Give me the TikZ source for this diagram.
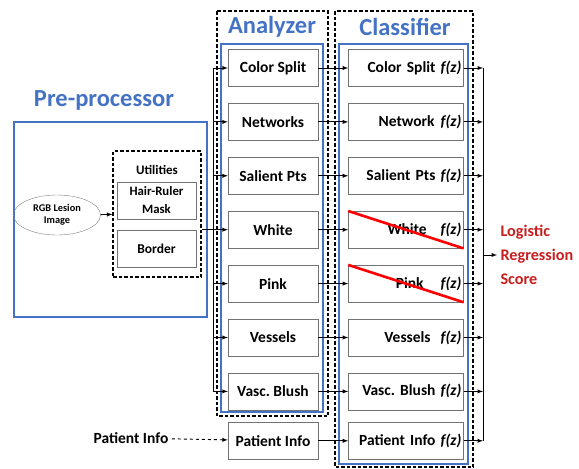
\documentclass[tikz,border=0pt]{standalone}
\usepackage{fontspec}
\setmainfont{Carlito}
\usetikzlibrary{positioning,shapes.geometric}

\definecolor{procblue}{RGB}{68,114,196}
\definecolor{scorered}{RGB}{200,30,30}

\begin{document}
\frenchspacing
\begin{tikzpicture}[x=1pt, y=1pt, node distance=16.5pt, >=latex,
  every node/.style={font=\bfseries\fontsize{15.5}{17}\selectfont},
  box/.style={draw=black!55, minimum width=90pt, minimum height=37pt, inner sep=2pt},
  fbox/.style={box, minimum width=115pt, text width=111pt, align=right},
  title/.style={text=procblue, font=\bfseries\fontsize{24.5}{26}\selectfont},
  bluebox/.style={draw=procblue, line width=1.6pt},
  dashbox/.style={draw, dash pattern=on 3.5pt off 2pt, line width=1.1pt},
  link/.style={->, line width=0.9pt}]
  \useasboundingbox (0,0) rectangle (579,-469);

  % pre-processor
  \node[title] (pretitle) at (104,-100) {Pre-processor};
  \draw[bluebox] (14,-122) rectangle (207,-317);
  \node[draw=black!50, ellipse, minimum width=87pt, minimum height=40pt, inner sep=1pt, align=center,
        font=\bfseries\fontsize{10.3}{12}\selectfont] (rgb) at (57,-215) {RGB Lesion\\Image};
  \node[dashbox, minimum width=88pt, minimum height=126pt] (util) at (157,-214) {};
  \node[font=\bfseries\fontsize{13}{15}\selectfont] (utitle) at (157,-170) {Utilities};
  \node[box, minimum width=79pt, align=center, font=\bfseries\fontsize{12.8}{18}\selectfont] (hair) at (156.5,-200.5) {Hair-Ruler\\Mask};
  \node[box, minimum width=79pt, below=11pt of hair, font=\bfseries\fontsize{13.5}{15}\selectfont] (border) {Border};
  \draw[link] (rgb) -- (util);

  % analyzer
  \node[title] (antitle) at (272,-27) {Analyzer};
  \draw[dashbox] (217,-11) rectangle (328,-416);
  \draw[bluebox] (221,-44) rectangle (323,-412);
  \node[box] (cs) at (273,-68) {Color Split};
  \node[box, below=of cs] (net) {Networks};
  \node[box, below=of net] (sal) {Salient Pts};
  \node[box, below=of sal] (wht) {White};
  \node[box, below=of wht] (pnk) {Pink};
  \node[box, below=of pnk] (ves) {Vessels};
  \node[box, below=of ves] (vb) {Vasc. Blush};
  \node[box, below=12pt of vb] (pinfo) {Patient Info};
  \node (ptxt) at (131,-438) {Patient Info};
  \draw[link, dashed] (ptxt) -- (pinfo);

  % classifier
  \node[title] (cltitle) at (405,-27) {Classifier};
  \draw[dashbox] (335,-11) rectangle (473,-467);
  \draw[bluebox] (339,-44) rectangle (468,-464);
  \node[fbox, right=30pt of cs] (fcs) {Color Split \textit{f(z)}};
  \node[fbox, right=30pt of net] (fnet) {Network\hspace{6pt}\textit{f(z)}};
  \node[fbox, right=30pt of sal] (fsal) {Salient Pts \textit{f(z)}};
  \node[fbox, right=30pt of wht] (fwht) {White\hspace{14pt}\textit{f(z)}};
  \node[fbox, right=30pt of pnk] (fpnk) {Pink\hspace{17pt}\textit{f(z)}};
  \node[fbox, right=30pt of ves] (fves) {Vessels\hspace{10pt}\textit{f(z)}};
  \node[fbox, right=30pt of vb] (fvb) {Vasc. Blush \textit{f(z)}};
  \node[fbox, right=30pt of pinfo] (fpinfo) {Patient Info \textit{f(z)}};
  \draw[red, line width=2.6pt] (fwht.north west) -- (fwht.south east);
  \draw[red, line width=2.6pt] (fpnk.north west) -- (fpnk.south east);

  % bus into the analyzer
  \coordinate (bus) at (213,0);
  \draw[line width=0.9pt] (cs.west -| bus) -- (vb.west -| bus);
  \draw[line width=0.9pt] (util.east |- wht.west) -- (wht.west -| bus);
  \foreach \n in {cs,net,sal,wht,pnk,ves,vb}
    \draw[link] (\n.west -| bus) -- (\n.west);
  \foreach \n/\m in {cs/fcs,net/fnet,sal/fsal,wht/fwht,pnk/fpnk,ves/fves,vb/fvb,pinfo/fpinfo}
    \draw[link] (\n) -- (\m);

  % collecting line and score
  \coordinate (out) at (483,0);
  \draw[line width=0.9pt] (fcs.east -| out) -- (fpinfo.east -| out);
  \foreach \m in {fcs,fnet,fsal,fwht,fpnk,fves,fvb,fpinfo}
    \draw[link] (\m.east) -- (\m.east -| out);
  \node[text=scorered, anchor=west, align=left, font=\bfseries\fontsize{16.2}{24}\selectfont] (score) at (497,-255) {Logistic\\Regression\\Score};
  \draw[link] (out |- score.west) -- (score.west);
\end{tikzpicture}
\end{document}
